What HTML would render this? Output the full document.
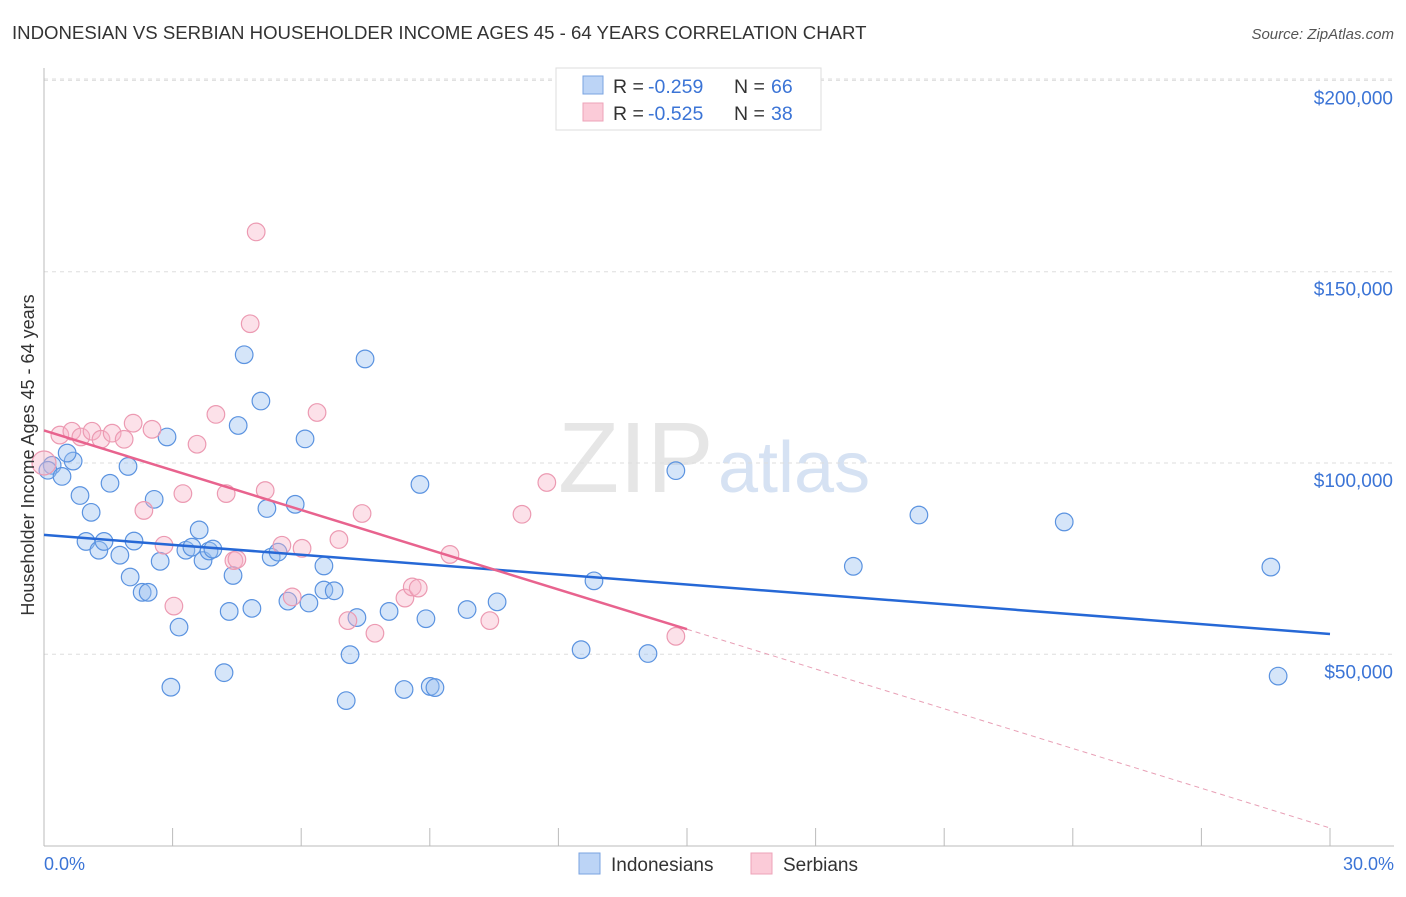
<!DOCTYPE html>
<html><head><meta charset="utf-8"><style>
body{margin:0;background:#fff;font-family:"Liberation Sans",sans-serif}
svg text{font-family:"Liberation Sans",sans-serif}
</style></head><body>
<svg id="c" width="1406" height="892" viewBox="0 0 1406 892" xmlns="http://www.w3.org/2000/svg">
<text x="12" y="39" font-size="18.6" fill="#333">INDONESIAN VS SERBIAN HOUSEHOLDER INCOME AGES 45 - 64 YEARS CORRELATION CHART</text>
<text x="1394" y="39" font-size="15" fill="#555" font-style="italic" text-anchor="end">Source: ZipAtlas.com</text>
<text x="558" y="492" font-size="100" fill="#e6e6e6" font-family="Liberation Serif">ZIP</text>
<text x="718" y="492" font-size="72" fill="#d6e2f3">atlas</text>
<g id="grid"></g><g id="axes"></g><g id="pts"></g><g id="lines"></g>
<text x="34" y="455" font-size="18" fill="#333" text-anchor="middle" transform="rotate(-90 34 455)">Householder Income Ages 45 - 64 years</text>
<text x="44" y="870" font-size="18" fill="#3b74d6">0.0%</text>
<text x="1394" y="870" font-size="18" fill="#3b74d6" text-anchor="end">30.0%</text>
<g>
<rect x="556" y="68" width="265" height="62" fill="#fff" stroke="#ddd"/>
<rect x="583" y="76" width="20" height="18" fill="#bcd4f6" stroke="#7aa3e0"/>
<rect x="583" y="103" width="20" height="18" fill="#fbcbd8" stroke="#eea3b8"/>
<text x="613" y="93" font-size="19.5" fill="#333">R =</text>
<text x="648" y="93" font-size="19.5" fill="#3b74d6">-0.259</text>
<text x="734" y="93" font-size="19.5" fill="#333">N =</text>
<text x="771" y="93" font-size="19.5" fill="#3b74d6">66</text>
<text x="613" y="120" font-size="19.5" fill="#333">R =</text>
<text x="648" y="120" font-size="19.5" fill="#3b74d6">-0.525</text>
<text x="734" y="120" font-size="19.5" fill="#333">N =</text>
<text x="771" y="120" font-size="19.5" fill="#3b74d6">38</text>
</g>
<g>
<rect x="579" y="853" width="21" height="21" fill="#bcd4f6" stroke="#7aa3e0"/>
<text x="611" y="871" font-size="19" fill="#333">Indonesians</text>
<rect x="751" y="853" width="21" height="21" fill="#fbcbd8" stroke="#eea3b8"/>
<text x="783" y="871" font-size="19" fill="#333">Serbians</text>
</g>
</svg>
<script>
const NS="http://www.w3.org/2000/svg";
const yTicks=[50000,100000,150000,200000];
const yTickLabels=["$50,000","$100,000","$150,000","$200,000"];
const xTicks=[0,3,6,9,12,15,18,21,24,27,30];
const blueX=[0.19,0.09,0.42,0.68,0.54,0.84,1.10,0.98,1.28,1.40,1.54,1.96,1.77,2.01,2.10,2.29,2.43,2.57,2.71,2.87,2.96,3.15,3.31,3.45,3.62,3.71,3.85,3.94,4.20,4.32,4.41,4.53,4.67,4.85,5.06,5.20,5.30,5.46,5.69,5.86,6.09,6.18,6.53,6.53,6.77,7.05,7.14,7.30,7.49,8.05,8.40,8.77,8.91,9.01,9.12,9.87,10.57,12.53,12.83,14.09,14.74,18.88,20.41,23.80,28.62,28.79];
const blueY=[99400,98100,96500,100500,102600,91500,87100,79500,77200,79500,94700,99100,75900,70200,79600,66200,66200,90500,74300,106800,41400,57100,77200,78000,82500,74500,77000,77500,45200,61200,70600,109800,128300,62000,116200,88100,75400,76700,63900,89200,106300,63400,73100,66800,66600,37900,49900,59600,127200,61200,40800,94400,59300,41600,41300,61700,63700,51200,69200,50200,98000,73000,86400,84600,72800,44300];
const pinkX=[0.00,0.37,0.65,0.86,1.12,1.33,1.59,1.87,2.08,2.52,2.33,2.80,3.03,3.24,3.57,4.01,4.25,4.43,4.50,4.81,4.95,5.16,5.55,5.79,6.02,6.37,6.88,7.09,7.42,7.72,8.42,8.59,8.73,9.47,10.40,11.15,11.73,14.74];
const pinkY=[100000,107300,108300,106800,108300,106200,107800,106200,110400,108800,87600,78500,62600,92000,104900,112700,92000,74500,74800,136400,160400,92800,78500,65000,77700,113200,80000,58800,86800,55500,64700,67600,67300,76100,58800,86600,94900,54700];
const blueFit=[81200,55300];
const pinkFit=[108500,4600];
const pinkSolidEnd=15;
const X=v=>44+v/30*1286, Y=v=>845.6-v/50000*191.3;
function mk(tag,attrs,parent){const e=document.createElementNS(NS,tag);for(const k in attrs)e.setAttribute(k,attrs[k]);parent.appendChild(e);return e;}
const grid=document.getElementById('grid'),axes=document.getElementById('axes'),pts=document.getElementById('pts'),lines=document.getElementById('lines');
yTicks.forEach((t,i)=>{
 const l=mk('line',{x1:44,x2:1394,y1:Y(t),y2:Y(t),stroke:'#ddd','stroke-dasharray':'4 4'},grid);
 
 
 const tx=mk('text',{x:1393,y:Y(t)+24,'font-size':19,fill:'#3b74d6','text-anchor':'end'},axes);
 tx.textContent=yTickLabels[i];
 
 
});
const tg=mk('line',{x1:44,x2:1394,y1:79,y2:79,stroke:'#ddd','stroke-dasharray':'4 4'},grid);


const ya=mk('line',{x1:44,x2:44,y1:68,y2:846,stroke:'#bbb'},axes);


const xa=mk('line',{x1:44,x2:1394,y1:846,y2:846,stroke:'#bbb'},axes);


xTicks.forEach(t=>{
 const l=mk('line',{x1:X(t),x2:X(t),y1:828,y2:846,stroke:'#bbb'},axes);
 
 
});
blueX.forEach((x,i)=>{
 const c=mk('circle',{cx:X(x),cy:Y(blueY[i]),r:8.8,fill:'rgba(150,190,240,0.4)',stroke:'#5b93e0','stroke-width':1.2},pts);
 
 
});
pinkX.forEach((x,i)=>{
 const c=mk('circle',{cx:X(x),cy:Y(pinkY[i]),r:i==0?12:8.8,fill:'rgba(248,180,200,0.4)',stroke:'#ec9ab2','stroke-width':1.2},pts);
 
 
});
const bl=mk('line',{x1:X(0),y1:Y(blueFit[0]),x2:X(30),y2:Y(blueFit[1]),stroke:'#2668d6','stroke-width':2.5},lines);


const pAt=x=>pinkFit[0]+(pinkFit[1]-pinkFit[0])*x/30;
const pl=mk('line',{x1:X(0),y1:Y(pAt(0)),x2:X(pinkSolidEnd),y2:Y(pAt(pinkSolidEnd)),stroke:'#e8638e','stroke-width':2.5},lines);


const pd=mk('line',{x1:X(pinkSolidEnd),y1:Y(pAt(pinkSolidEnd)),x2:X(30),y2:Y(pAt(30)),stroke:'#e8a0b6','stroke-width':1,'stroke-dasharray':'5 4'},lines);


</script>
</body></html>
